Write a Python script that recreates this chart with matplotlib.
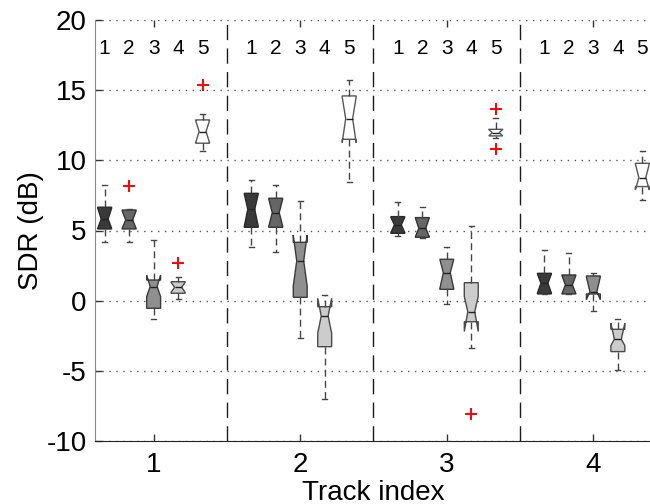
import matplotlib
matplotlib.use("Agg")
import matplotlib.pyplot as plt

# ---- data ----
tracks = [1, 2, 3, 4]
methods = ["1", "2", "3", "4", "5"]

m1_whi = [8.24, 8.6, 7.06, 3.61]
m1_q3 = [6.66, 7.65, 5.99, 1.95]
m1_med = [5.82, 6.51, 5.4, 1.24]
m1_q1 = [5.11, 5.23, 4.8, 0.48]
m1_wlo = [4.21, 3.8, 4.61, 0.45]
m1_cihi = [6.6, 7.6, 5.95, 1.9]
m1_cilo = [5.15, 5.3, 4.85, 0.55]
m1_fliers = [[], [], [], []]

m2_whi = [6.5, 8.25, 6.66, 3.42]
m2_q3 = [6.46, 7.3, 5.92, 1.83]
m2_med = [5.75, 6.27, 5.16, 1.12]
m2_q1 = [5.11, 5.23, 4.52, 0.48]
m2_wlo = [4.21, 3.45, 4.5, 0.45]
m2_cihi = [6.4, 7.25, 5.9, 1.8]
m2_cilo = [5.15, 5.3, 4.55, 0.5]
m2_fliers = [[8.18], [], [], []]

m3_whi = [4.33, 7.13, 3.8, 2.0]
m3_q3 = [1.47, 4.16, 2.95, 1.76]
m3_med = [1.0, 2.83, 2.0, 0.64]
m3_q1 = [-0.54, 0.24, 0.81, 0.48]
m3_wlo = [-1.33, -2.68, -0.26, -0.71]
m3_cihi = [1.83, 4.68, 2.95, 1.7]
m3_cilo = [0.29, 1.05, 0.85, 0.07]
m3_fliers = [[], [], [], []]

m4_whi = [1.71, 0.41, 5.35, -1.3]
m4_q3 = [1.35, -0.43, 1.28, -2.04]
m4_med = [0.95, -1.09, -0.78, -2.75]
m4_q1 = [0.53, -3.28, -1.5, -3.63]
m4_wlo = [0.1, -7.0, -3.4, -4.94]
m4_cihi = [1.3, 0.17, 0.29, -1.61]
m4_cilo = [0.6, -2.33, -2.2, -3.2]
m4_fliers = [[2.71], [], [-8.1], []]

m5_whi = [13.28, 15.73, 13.0, 10.67]
m5_q3 = [12.88, 14.59, 12.21, 9.79]
m5_med = [12.05, 12.97, 11.97, 8.77]
m5_q1 = [11.22, 11.5, 11.74, 8.13]
m5_wlo = [10.69, 8.48, 11.6, 7.18]
m5_cihi = [12.85, 14.5, 12.2, 9.75]
m5_cilo = [11.25, 11.26, 11.74, 7.89]
m5_fliers = [[15.37], [], [13.64, 10.79], []]

series = [
    (m1_whi, m1_q3, m1_med, m1_q1, m1_wlo, m1_cihi, m1_cilo, m1_fliers),
    (m2_whi, m2_q3, m2_med, m2_q1, m2_wlo, m2_cihi, m2_cilo, m2_fliers),
    (m3_whi, m3_q3, m3_med, m3_q1, m3_wlo, m3_cihi, m3_cilo, m3_fliers),
    (m4_whi, m4_q3, m4_med, m4_q1, m4_wlo, m4_cihi, m4_cilo, m4_fliers),
    (m5_whi, m5_q3, m5_med, m5_q1, m5_wlo, m5_cihi, m5_cilo, m5_fliers),
]
face_colors = ["#3a3a3a", "#666666", "#8f8f8f", "#cccccc", "#ffffff"]
edge_colors = ["#2a2a2a", "#333333", "#3a3a3a", "#4a4a4a", "#555555"]

offsets = [-0.334, -0.167, 0.0, 0.167, 0.334]
box_w = 0.095

plt.rcParams["font.family"] = ["Liberation Sans", "DejaVu Sans"]
plt.rcParams["axes.unicode_minus"] = False

fig = plt.figure(figsize=(6.5, 5.04), dpi=100)
ax = fig.add_axes([95 / 650, 63 / 504, 557 / 650, 421 / 504])

for mi, (whi, q3, med, q1, wlo, cihi, cilo, fl) in enumerate(series):
    stats = []
    pos = []
    for ti, t in enumerate(tracks):
        stats.append(dict(med=med[ti], q1=q1[ti], q3=q3[ti], whislo=wlo[ti],
                          whishi=whi[ti], cilo=cilo[ti], cihi=cihi[ti],
                          fliers=fl[ti]))
        pos.append(t + offsets[mi])
    ax.bxp(stats, positions=pos, widths=box_w, shownotches=True,
           patch_artist=True, capwidths=0.035, manage_ticks=False,
           boxprops=dict(facecolor=face_colors[mi], edgecolor=edge_colors[mi], linewidth=1.0),
           medianprops=dict(color="#222222", linewidth=1.0),
           whiskerprops=dict(color="#444444", linewidth=1.0, linestyle=(0, (5, 3))),
           capprops=dict(color="#444444", linewidth=1.0),
           flierprops=dict(marker="+", markeredgecolor="red", markersize=9,
                           markeredgewidth=1.4, linestyle="none"))
    for t in tracks:
        ax.text(t + offsets[mi], 18.0, methods[mi], ha="center", va="center",
                fontsize=15, color="black")

# group separators
for xsep in [1.5, 2.5, 3.5]:
    ax.axvline(xsep, color="#1a1a1a", linewidth=1.0, linestyle=(0, (11, 6)), zorder=0.5)

ax.set_xlim(0.6, 4.4)
ax.set_ylim(-10, 20)
ax.set_yticks([-10, -5, 0, 5, 10, 15, 20])
ax.set_xticks(tracks)
ax.set_xticklabels([str(t) for t in tracks])
ax.yaxis.grid(True, color="#555555", linestyle=(0, (1, 4)), linewidth=1.0)
ax.set_axisbelow(True)

ax.tick_params(axis="both", direction="in", labelsize=20, length=5, width=1,
               colors="#333333", labelcolor="black")
ax.tick_params(axis="x", top=True, pad=8)
ax.tick_params(axis="y", pad=6)
ax.spines["top"].set_visible(False)
ax.spines["right"].set_visible(False)
ax.spines["left"].set_color("#888888")
ax.spines["bottom"].set_color("#222222")

ax.set_xlabel("Track index", fontsize=20, labelpad=1)
ax.set_ylabel("SDR (dB)", fontsize=20, labelpad=2)

fig.savefig("out.png", dpi=100)
